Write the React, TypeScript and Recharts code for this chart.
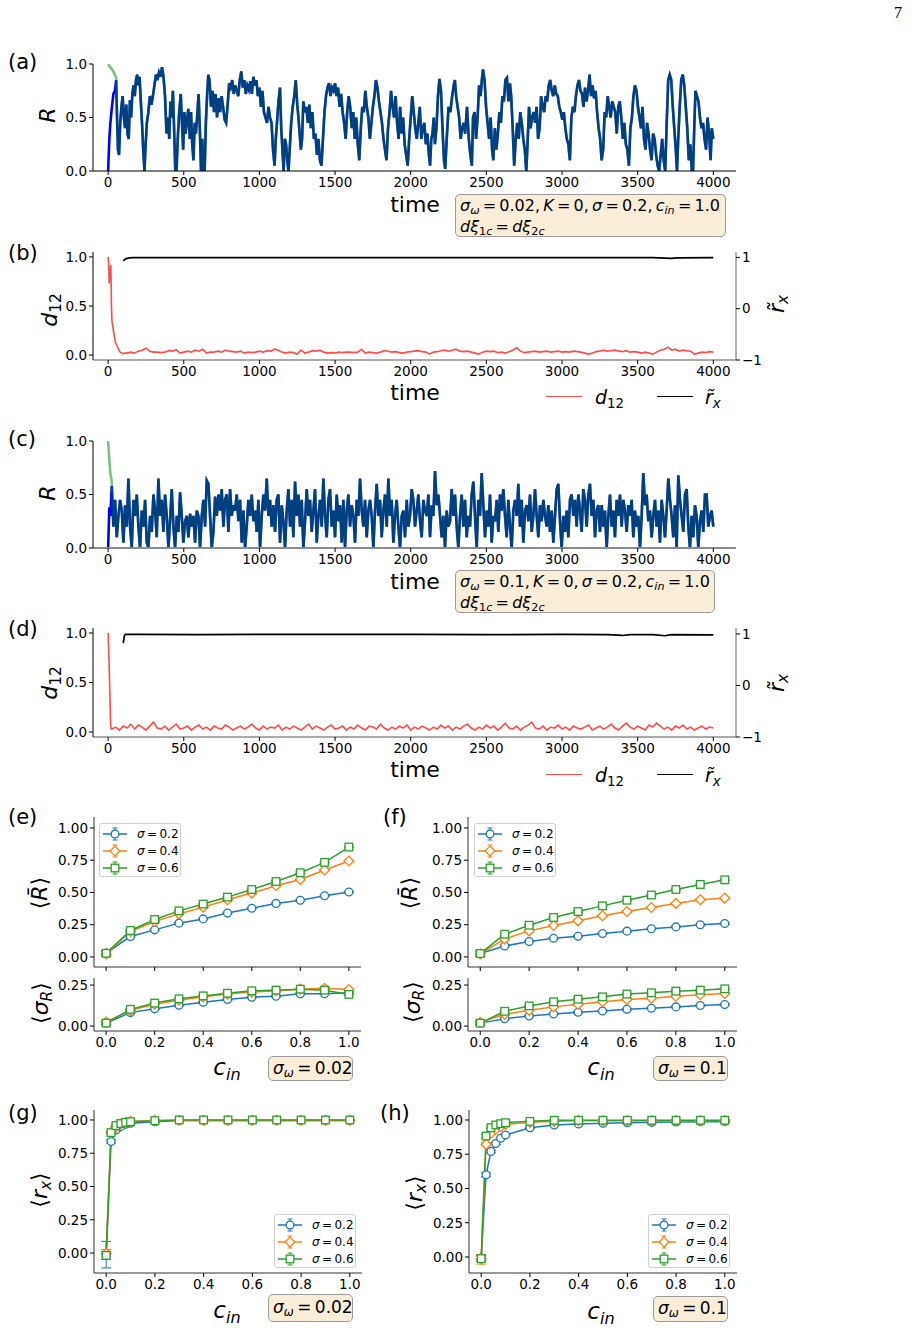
import React from "react";
import { LineChart, Line, XAxis, YAxis, ErrorBar } from "recharts";

const FONT = "'DejaVu Sans', sans-serif";
const TICK = { fontSize: 13.5, fill: "#000", fontFamily: FONT };
const C_BLUE = "#1f77b4";
const C_ORANGE = "#ff7f0e";
const C_GREEN = "#2ca02c";
const BOX = "#333";
const TS = "\u2009"; // thin space, mathtext-like spacing

// ---------- time series data ----------
const timeTicks = [0, 500, 1000, 1500, 2000, 2500, 3000, 3500, 4000];

// (a) R(t), sigma_omega = 0.02 : [time, R]
const aPts: [number, number][] = [
  [0, 0], [8, 0.3], [15, 0.45], [25, 0.6], [35, 0.72], [45, 0.75], [53, 0.85], [58, 0.55], [65, 0.2], [72, 0.15],
  [80, 0.45], [88, 0.6], [96, 0.7], [104, 0.5], [112, 0.4], [120, 0.62], [128, 0.35], [136, 0.3], [144, 0.66], [152, 0.5],
  [160, 0.72], [168, 0.8], [176, 0.7], [184, 0.85], [192, 0.9], [200, 0.8], [208, 0.88], [216, 0.65], [224, 0.45], [232, 0.2],
  [240, 0.0], [248, 0.25], [256, 0.45], [266, 0.55], [276, 0.7], [286, 0.62], [296, 0.7], [306, 0.8], [316, 0.9], [326, 0.85],
  [336, 0.92], [346, 0.88], [356, 0.97], [366, 0.88], [376, 0.7], [386, 0.35], [396, 0.5], [404, 0.3], [412, 0.65], [420, 0.5],
  [428, 0.75], [436, 0.4], [444, 0.0], [452, 0.0], [460, 0.3], [470, 0.55], [480, 0.72], [488, 0.45], [496, 0.2], [504, 0.55],
  [512, 0.35], [520, 0.45], [530, 0.58], [540, 0.3], [548, 0.55], [556, 0.25], [564, 0.1], [572, 0.45], [580, 0.35], [588, 0.5],
  [598, 0.72], [606, 0.4], [614, 0.0], [622, 0.3], [630, 0.0], [638, 0.0], [646, 0.45], [654, 0.7], [662, 0.9], [670, 0.85],
  [680, 0.6], [690, 0.75], [700, 0.55], [710, 0.72], [720, 0.5], [730, 0.68], [740, 0.55], [750, 0.7], [760, 0.6], [770, 0.48],
  [780, 0.45], [790, 0.62], [800, 0.82], [810, 0.78], [820, 0.85], [830, 0.72], [840, 0.8], [850, 0.75], [860, 0.7], [870, 0.85],
  [880, 0.93], [890, 0.78], [900, 0.85], [910, 0.72], [920, 0.8], [930, 0.76], [940, 0.84], [950, 0.72], [960, 0.88], [970, 0.8],
  [980, 0.85], [990, 0.7], [1000, 0.78], [1010, 0.6], [1020, 0.75], [1030, 0.55], [1040, 0.5], [1050, 0.45], [1060, 0.6], [1070, 0.5],
  [1080, 0.45], [1090, 0.2], [1100, 0.05], [1108, 0.3], [1116, 0.45], [1126, 0.65], [1136, 0.78], [1144, 0.4], [1152, 0.2], [1160, 0.0],
  [1168, 0.3], [1176, 0.25], [1184, 0.1], [1192, 0.0], [1200, 0.2], [1210, 0.45], [1220, 0.6], [1230, 0.7], [1240, 0.85], [1250, 0.62],
  [1258, 0.5], [1266, 0.35], [1274, 0.2], [1282, 0.3], [1290, 0.65], [1300, 0.55], [1310, 0.6], [1320, 0.45], [1330, 0.62], [1340, 0.4],
  [1350, 0.55], [1360, 0.3], [1370, 0.35], [1380, 0.15], [1390, 0.3], [1400, 0.1], [1410, 0.05], [1420, 0.3], [1430, 0.55], [1440, 0.7],
  [1450, 0.78], [1460, 0.82], [1470, 0.7], [1480, 0.78], [1490, 0.75], [1500, 0.82], [1510, 0.7], [1520, 0.78], [1530, 0.6], [1540, 0.72],
  [1550, 0.55], [1560, 0.45], [1570, 0.3], [1580, 0.55], [1590, 0.7], [1600, 0.6], [1610, 0.4], [1620, 0.55], [1630, 0.3], [1640, 0.5],
  [1650, 0.25], [1660, 0.1], [1670, 0.4], [1680, 0.6], [1690, 0.55], [1700, 0.75], [1710, 0.6], [1720, 0.5], [1730, 0.3], [1740, 0.45],
  [1750, 0.6], [1760, 0.7], [1770, 0.85], [1780, 0.78], [1790, 0.65], [1800, 0.55], [1810, 0.45], [1820, 0.3], [1830, 0.2], [1840, 0.1],
  [1850, 0.4], [1860, 0.55], [1870, 0.75], [1880, 0.6], [1890, 0.5], [1900, 0.7], [1910, 0.45], [1920, 0.3], [1930, 0.6], [1940, 0.35],
  [1950, 0.5], [1960, 0.25], [1970, 0.15], [1980, 0.05], [1990, 0.3], [2000, 0.5], [2010, 0.7], [2020, 0.55], [2030, 0.4], [2040, 0.3],
  [2050, 0.45], [2060, 0.6], [2070, 0.3], [2080, 0.4], [2090, 0.45], [2100, 0.25], [2110, 0.35], [2120, 0.15], [2128, 0.05], [2136, 0.3],
  [2144, 0.35], [2152, 0.5], [2160, 0.25], [2170, 0.4], [2180, 0.7], [2190, 0.86], [2200, 0.75], [2210, 0.4], [2220, 0.1], [2228, 0.02],
  [2238, 0.3], [2250, 0.6], [2262, 0.55], [2274, 0.7], [2284, 0.8], [2292, 0.85], [2300, 0.7], [2310, 0.6], [2320, 0.5], [2330, 0.3],
  [2340, 0.4], [2350, 0.45], [2360, 0.35], [2372, 0.6], [2384, 0.3], [2394, 0.15], [2404, 0.05], [2412, 0.5], [2422, 0.55], [2432, 0.3],
  [2442, 0.5], [2452, 0.8], [2462, 0.7], [2470, 0.85], [2478, 0.95], [2488, 0.85], [2498, 0.6], [2508, 0.45], [2518, 0.3], [2528, 0.5],
  [2538, 0.2], [2546, 0.1], [2556, 0.4], [2566, 0.2], [2576, 0.35], [2586, 0.55], [2596, 0.45], [2606, 0.7], [2616, 0.65], [2626, 0.85],
  [2636, 0.87], [2646, 0.65], [2656, 0.82], [2664, 0.7], [2674, 0.4], [2684, 0.05], [2694, 0.3], [2704, 0.45], [2714, 0.3], [2724, 0.55],
  [2734, 0.45], [2744, 0.3], [2754, 0.2], [2764, 0.0], [2772, 0.25], [2782, 0.6], [2792, 0.4], [2802, 0.5], [2812, 0.55], [2822, 0.45],
  [2832, 0.6], [2842, 0.3], [2852, 0.4], [2862, 0.7], [2872, 0.6], [2882, 0.55], [2892, 0.7], [2902, 0.65], [2912, 0.8], [2922, 0.85],
  [2932, 0.75], [2942, 0.7], [2952, 0.8], [2962, 0.72], [2972, 0.7], [2982, 0.6], [2992, 0.55], [3002, 0.48], [3012, 0.55], [3022, 0.4],
  [3032, 0.3], [3042, 0.25], [3052, 0.1], [3062, 0.5], [3072, 0.6], [3082, 0.55], [3092, 0.7], [3102, 0.8], [3112, 0.85], [3122, 0.75],
  [3132, 0.72], [3142, 0.6], [3152, 0.78], [3162, 0.65], [3172, 0.75], [3182, 0.9], [3192, 0.7], [3202, 0.8], [3212, 0.68], [3222, 0.75],
  [3232, 0.55], [3242, 0.4], [3252, 0.3], [3262, 0.1], [3272, 0.2], [3282, 0.55], [3292, 0.5], [3302, 0.7], [3312, 0.6], [3322, 0.5],
  [3332, 0.65], [3342, 0.6], [3352, 0.55], [3362, 0.35], [3372, 0.6], [3382, 0.65], [3392, 0.5], [3402, 0.3], [3412, 0.45], [3422, 0.25],
  [3432, 0.2], [3442, 0.05], [3452, 0.4], [3462, 0.5], [3472, 0.7], [3482, 0.8], [3492, 0.75], [3502, 0.6], [3512, 0.5], [3522, 0.4],
  [3532, 0.6], [3542, 0.3], [3552, 0.2], [3562, 0.45], [3572, 0.35], [3582, 0.2], [3592, 0.1], [3602, 0.35], [3612, 0.3], [3622, 0.15],
  [3632, 0.05], [3642, 0.0], [3652, 0.15], [3662, 0.3], [3672, 0.1], [3682, 0.0], [3692, 0.45], [3702, 0.85], [3712, 0.9], [3722, 0.85],
  [3732, 0.6], [3742, 0.4], [3752, 0.2], [3760, 0.0], [3768, 0.3], [3778, 0.6], [3788, 0.85], [3798, 0.9], [3808, 0.8], [3818, 0.6],
  [3828, 0.4], [3838, 0.1], [3848, 0.25], [3858, 0.0], [3866, 0.0], [3874, 0.4], [3882, 0.75], [3892, 0.7], [3902, 0.65], [3912, 0.5],
  [3922, 0.4], [3932, 0.45], [3942, 0.3], [3952, 0.2], [3962, 0.5], [3972, 0.35], [3982, 0.1], [3990, 0.4], [4000, 0.3],
];
// second oscillator (green) differs only at the start
const aGreenHead = [1.0, 0.98, 0.97, 0.95, 0.93, 0.9, 0.87];

// (c) R(t), sigma_omega = 0.1
const cHead: [number, number][] = [[0, 0], [8, 0.38], [15, 0.3], [24, 0.58]];
const cGreenHead = [1.0, 0.82, 0.7, 0.62];
const cStart = 35;
const cR = [
  0.2, 0.45, 0.1, 0.3, 0.45, 0.35, 0.05, 0.4, 0.2, 0.65, 0.2, 0.0, 0.45, 0.3, 0.5, 0.2, 0.0, 0.35, 0.2, 0.45,
  0.05, 0.0, 0.3, 0.15, 0.5, 0.35, 0.1, 0.65, 0.3, 0.45, 0.15, 0.5, 0.3, 0.0, 0.25, 0.55, 0.2, 0.0, 0.3, 0.15,
  0.52, 0.3, 0.05, 0.25, 0.3, 0.1, 0.32, 0.2, 0.3, 0.05, 0.35, 0.3, 0.0, 0.3, 0.45, 0.2, 0.63, 0.6, 0.3, 0.0,
  0.15, 0.48, 0.3, 0.5, 0.35, 0.55, 0.2, 0.45, 0.5, 0.15, 0.55, 0.3, 0.4, 0.35, 0.5, 0.25, 0.45, 0.05, 0.35, 0.0,
  0.2, 0.45, 0.3, 0.5, 0.25, 0.35, 0.15, 0.45, 0.0, 0.3, 0.5, 0.35, 0.65, 0.3, 0.45, 0.2, 0.4, 0.15, 0.45, 0.5,
  0.05, 0.4, 0.25, 0.0, 0.35, 0.55, 0.2, 0.45, 0.1, 0.62, 0.3, 0.5, 0.2, 0.45, 0.0, 0.25, 0.55, 0.3, 0.45, 0.15,
  0.35, 0.55, 0.05, 0.3, 0.45, 0.2, 0.65, 0.3, 0.1, 0.45, 0.55, 0.2, 0.35, 0.1, 0.5, 0.25, 0.4, 0.05, 0.45, 0.0,
  0.35, 0.5, 0.2, 0.4, 0.3, 0.05, 0.45, 0.3, 0.65, 0.35, 0.2, 0.45, 0.1, 0.35, 0.45, 0.3, 0.0, 0.35, 0.6, 0.3,
  0.45, 0.1, 0.35, 0.5, 0.2, 0.65, 0.3, 0.45, 0.05, 0.3, 0.45, 0.2, 0.0, 0.3, 0.35, 0.1, 0.45, 0.2, 0.3, 0.55,
  0.45, 0.2, 0.35, 0.5, 0.25, 0.1, 0.45, 0.35, 0.3, 0.5, 0.1, 0.4, 0.3, 0.72, 0.4, 0.5, 0.3, 0.1, 0.3, 0.0,
  0.35, 0.2, 0.25, 0.55, 0.3, 0.5, 0.2,
  0.0, 0.3, 0.5, 0.2, 0.45, 0.1, 0.3, 0.2, 0.5, 0.62, 0.3, 0.0, 0.45, 0.3, 0.7, 0.4, 0.1, 0.35, 0.2, 0.5,
  0.05, 0.3, 0.25, 0.45, 0.15, 0.5, 0.35, 0.55, 0.3, 0.1, 0.45, 0.2, 0.0, 0.35, 0.45, 0.3, 0.6, 0.2, 0.45, 0.05,
  0.35, 0.4, 0.25, 0.5, 0.15, 0.3, 0.55, 0.3, 0.1, 0.4, 0.25, 0.45, 0.3, 0.2, 0.4, 0.15, 0.35, 0.05, 0.3, 0.55,
  0.6, 0.25, 0.0, 0.3, 0.15, 0.35, 0.1, 0.45, 0.5, 0.3, 0.45, 0.2, 0.5, 0.35, 0.15, 0.55, 0.45, 0.2, 0.5, 0.6,
  0.3, 0.45, 0.1, 0.35, 0.4, 0.15, 0.4, 0.2, 0.35, 0.0, 0.3, 0.5, 0.2, 0.35, 0.1, 0.45, 0.3, 0.5, 0.2, 0.45,
  0.35, 0.15, 0.4, 0.3, 0.45, 0.1, 0.35, 0.2, 0.3, 0.0, 0.3, 0.7, 0.4, 0.5, 0.25, 0.35, 0.1, 0.3, 0.45, 0.2,
  0.35, 0.05, 0.45, 0.3, 0.1, 0.35, 0.65, 0.45, 0.3, 0.1, 0.4, 0.0, 0.68, 0.45, 0.3, 0.15, 0.5, 0.55, 0.2, 0.0,
  0.3, 0.1, 0.4, 0.3, 0.0, 0.25, 0.35, 0.15, 0.5, 0.5, 0.2, 0.3, 0.35, 0.2,
];

// (b) d12 and r_x, sigma_omega = 0.02
const bD12Head: [number, number][] = [
  [0, 1.0], [4, 0.9], [7, 0.73], [12, 0.85], [18, 0.92], [22, 0.5], [25, 0.35], [30, 0.3], [35, 0.25], [42, 0.18],
  [50, 0.12], [58, 0.1], [68, 0.06], [80, 0.03], [95, 0.015], [110, 0.02],
];
const bD12Start = 125;
const bD12 = [
  0.02, 0.03, 0.02, 0.04, 0.05, 0.07, 0.04, 0.03, 0.03, 0.025, 0.03, 0.045, 0.04, 0.055, 0.02, 0.03, 0.04, 0.03, 0.05, 0.04,
  0.06, 0.02, 0.03, 0.03, 0.04, 0.03, 0.05, 0.04, 0.035, 0.03, 0.04, 0.02, 0.03, 0.025, 0.03, 0.04, 0.03, 0.045, 0.04, 0.06,
  0.05, 0.03, 0.02, 0.03, 0.025, 0.01, 0.05, 0.02, 0.03, 0.045, 0.04, 0.05, 0.03, 0.02, 0.025, 0.02, 0.03, 0.025, 0.03, 0.03,
  0.025, 0.03, 0.06, 0.02, 0.03, 0.025, 0.02, 0.03, 0.045, 0.04, 0.03, 0.035, 0.025, 0.02, 0.03, 0.035, 0.04, 0.045, 0.035, 0.03,
  0.01, 0.03, 0.035, 0.045, 0.05, 0.04, 0.05, 0.06, 0.04, 0.035, 0.04, 0.03, 0.02, 0.01, 0.03, 0.04, 0.035, 0.04, 0.025, 0.03,
  0.02, 0.035, 0.05, 0.075, 0.04, 0.025, 0.03, 0.035, 0.04, 0.03, 0.035, 0.04, 0.03, 0.035, 0.04, 0.03, 0.035, 0.03, 0.04, 0.035,
  0.03, 0.02, 0.01, 0.02, 0.035, 0.04, 0.05, 0.04, 0.045, 0.05, 0.04, 0.035, 0.045, 0.03, 0.035, 0.03, 0.02, 0.03, 0.02, 0.01,
  0.03, 0.05, 0.06, 0.08, 0.05, 0.06, 0.04, 0.05, 0.045, 0.04, 0.01, 0.02, 0.03, 0.025, 0.035, 0.03,
];
const bRx: [number, number][] = [
  [100, 0.93], [110, 0.96], [120, 0.975], [140, 0.99], [170, 0.995], [600, 0.997], [1200, 0.995], [1800, 0.996],
  [2400, 0.995], [3000, 0.996], [3600, 0.995], [3680, 0.985], [3720, 0.98], [3760, 0.99], [4000, 0.995],
];

// (d) d12 and r_x, sigma_omega = 0.1
const dD12Head: [number, number][] = [[0, 1.0], [8, 0.6], [16, 0.1], [20, 0.03]];
const dD12Start = 25;
const dD12 = [
  0.03, 0.05, 0.02, 0.06, 0.04, 0.08, 0.03, 0.07, 0.05, 0.02, 0.06, 0.1, 0.04, 0.03, 0.06, 0.02, 0.05, 0.08, 0.03, 0.04,
  0.06, 0.02, 0.05, 0.07, 0.03, 0.05, 0.02, 0.06, 0.04, 0.03, 0.07, 0.05, 0.02, 0.04, 0.06, 0.03, 0.05, 0.08, 0.04, 0.02,
  0.06, 0.03, 0.05, 0.04, 0.07, 0.02, 0.05, 0.03, 0.06, 0.04, 0.02, 0.05, 0.08, 0.03, 0.06, 0.04, 0.02, 0.05, 0.07, 0.03,
  0.04, 0.06, 0.02, 0.05, 0.03, 0.07, 0.04, 0.02, 0.06, 0.05, 0.03, 0.08, 0.04, 0.02, 0.05, 0.03, 0.06, 0.04, 0.07, 0.02,
  0.05, 0.03, 0.06, 0.04, 0.02, 0.05, 0.03, 0.07, 0.04, 0.06, 0.02, 0.05, 0.03, 0.06, 0.08, 0.04, 0.02, 0.05, 0.03, 0.07,
  0.04, 0.06, 0.02, 0.05, 0.09, 0.04, 0.03, 0.06, 0.02, 0.05, 0.07, 0.1, 0.04, 0.03, 0.06, 0.02, 0.05, 0.04, 0.07, 0.03,
  0.05, 0.02, 0.06, 0.04, 0.03, 0.05, 0.07, 0.02, 0.04, 0.06, 0.03, 0.05, 0.08, 0.04, 0.02, 0.06, 0.09, 0.05, 0.03, 0.06,
  0.04, 0.02, 0.07, 0.05, 0.09, 0.06, 0.03, 0.05, 0.02, 0.06, 0.04, 0.07, 0.03, 0.05, 0.02, 0.04, 0.06, 0.03, 0.05, 0.04,
];
const dRx: [number, number][] = [
  [100, 0.82], [108, 0.97], [115, 0.99], [200, 0.99], [600, 0.985], [1000, 0.99], [1500, 0.99], [2000, 0.99],
  [2500, 0.985], [3000, 0.99], [3300, 0.985], [3400, 0.97], [3450, 0.985], [3600, 0.985], [3680, 0.965], [3720, 0.985], [4000, 0.98],
];

// ---------- ensemble averages ----------
const cin = [0, 0.1, 0.2, 0.3, 0.4, 0.5, 0.6, 0.7, 0.8, 0.9, 1.0];
const cinFine = [0, 0.02, 0.04, 0.06, 0.08, 0.1, 0.2, 0.3, 0.4, 0.5, 0.6, 0.7, 0.8, 0.9, 1.0];

const eR02 = [0.03, 0.158, 0.21, 0.262, 0.295, 0.34, 0.378, 0.415, 0.44, 0.474, 0.503];
const eR04 = [0.023, 0.197, 0.275, 0.334, 0.386, 0.443, 0.495, 0.552, 0.6, 0.674, 0.744];
const eR06 = [0.028, 0.205, 0.29, 0.357, 0.41, 0.464, 0.523, 0.585, 0.653, 0.733, 0.852];
const eS02 = [0.018, 0.082, 0.105, 0.127, 0.145, 0.162, 0.176, 0.182, 0.197, 0.197, 0.203];
const eS04 = [0.025, 0.096, 0.133, 0.158, 0.178, 0.195, 0.207, 0.215, 0.225, 0.23, 0.223];
const eS06 = [0.018, 0.102, 0.14, 0.166, 0.184, 0.2, 0.215, 0.219, 0.225, 0.219, 0.193];

const fR02 = [0.026, 0.085, 0.119, 0.145, 0.16, 0.181, 0.2, 0.218, 0.233, 0.249, 0.259];
const fR04 = [0.023, 0.14, 0.202, 0.244, 0.28, 0.319, 0.352, 0.383, 0.415, 0.443, 0.456];
const fR06 = [0.026, 0.176, 0.246, 0.306, 0.352, 0.396, 0.44, 0.48, 0.523, 0.562, 0.598];
const fS02 = [0.018, 0.045, 0.061, 0.074, 0.084, 0.092, 0.102, 0.109, 0.117, 0.125, 0.131];
const fS04 = [0.023, 0.072, 0.096, 0.117, 0.133, 0.148, 0.162, 0.17, 0.182, 0.191, 0.199];
const fS06 = [0.018, 0.09, 0.123, 0.148, 0.164, 0.178, 0.195, 0.203, 0.213, 0.219, 0.227];

const errR = [0.02, 0.008, 0.006, 0.006, 0.006, 0.006, 0.006, 0.006, 0.006, 0.006, 0.006];
const errS = [0.012, 0.006, 0.005, 0.005, 0.005, 0.005, 0.005, 0.005, 0.005, 0.005, 0.005];

const gX02 = [-0.012, 0.838, 0.925, 0.95, 0.968, 0.975, 0.987, 0.997, 0.997, 0.997, 0.997, 0.997, 0.997, 0.997, 0.997];
const gX04 = [-0.003, 0.905, 0.95, 0.97, 0.982, 0.99, 0.997, 0.997, 0.997, 0.997, 0.997, 0.997, 0.997, 0.997, 0.997];
const gX06 = [-0.018, 0.905, 0.958, 0.973, 0.982, 0.987, 0.995, 1.0, 1.0, 1.0, 1.0, 1.0, 1.0, 1.0, 1.0];
const gE02 = [0.1, 0.012, 0.008, 0.006, 0.005, 0.005, 0.004, 0.003, 0.003, 0.003, 0.003, 0.003, 0.003, 0.003, 0.003];
const gE04 = [0.03, 0.01, 0.006, 0.005, 0.004, 0.004, 0.003, 0.003, 0.003, 0.003, 0.003, 0.003, 0.003, 0.003, 0.003];
const gE06 = [0.03, 0.01, 0.006, 0.005, 0.004, 0.004, 0.003, 0.003, 0.003, 0.003, 0.003, 0.003, 0.003, 0.003, 0.003];

const hX02 = [-0.007, 0.6, 0.77, 0.828, 0.867, 0.891, 0.944, 0.964, 0.971, 0.976, 0.98, 0.983, 0.985, 0.988, 0.988];
const hX04 = [-0.017, 0.823, 0.903, 0.932, 0.951, 0.968, 0.983, 0.99, 0.995, 0.995, 0.995, 0.995, 0.995, 0.995, 0.995];
const hX06 = [-0.012, 0.883, 0.944, 0.964, 0.973, 0.98, 0.99, 0.998, 0.998, 0.998, 0.998, 0.998, 0.998, 0.998, 0.998];
const hE02 = [0.02, 0.015, 0.01, 0.008, 0.006, 0.006, 0.005, 0.004, 0.004, 0.004, 0.004, 0.004, 0.004, 0.004, 0.004];
const hE04 = [0.035, 0.012, 0.008, 0.006, 0.005, 0.005, 0.004, 0.003, 0.003, 0.003, 0.003, 0.003, 0.003, 0.003, 0.003];
const hE06 = [0.02, 0.01, 0.006, 0.005, 0.004, 0.004, 0.003, 0.003, 0.003, 0.003, 0.003, 0.003, 0.003, 0.003, 0.003];

const sigmaLabels = ["0.2", "0.4", "0.6"];
const seriesColors = [C_BLUE, C_ORANGE, C_GREEN];
const seriesShapes = ["circle", "diamond", "square"];

// ---------- small text helpers ----------
const Sub = ({ children }: { children: React.ReactNode }) => (
  <span style={{ fontSize: "0.7em", position: "relative", top: "0.28em" }}>{children}</span>
);

const Abs = ({ x, y, size = 22, rotate = false, center = true, children }: any) => (
  <div
    style={{
      position: "absolute",
      left: x,
      top: y,
      fontFamily: FONT,
      fontSize: size,
      lineHeight: 1,
      whiteSpace: "nowrap",
      transform: `translate(${center ? "-50%" : "0"}, -50%)${rotate ? " rotate(-90deg)" : ""}`,
    }}
  >
    {children}
  </div>
);

const NoteBox = ({ x, y, w, h, size = 16, children }: any) => (
  <div
    style={{
      position: "absolute",
      left: x,
      top: y,
      width: w,
      height: h,
      boxSizing: "border-box",
      background: "#faeed9",
      border: "1.5px solid #9a9a9a",
      borderRadius: 5,
      padding: "1px 4px",
      fontFamily: FONT,
      fontSize: size,
      lineHeight: "19px",
      whiteSpace: "nowrap",
    }}
  >
    {children}
  </div>
);

// ---------- time series panels ----------
function RPanel({ top, head, green, start, vals, pts, axisColor }: any) {
  let rows: any[];
  if (pts) {
    rows = pts.map(([t, r]: [number, number], i: number) => ({ t, blue: r, green: i < green.length ? green[i] : r }));
  } else {
    const st = (4000 - start) / (vals.length - 1);
    rows = head.map(([t, r]: [number, number], i: number) => ({ t, blue: r, green: green[i] }));
    vals.forEach((r: number, k: number) => rows.push({ t: start + k * st, blue: r, green: r }));
  }
  return (
    <div style={{ position: "absolute", left: 0, top: top - 10 }}>
      <LineChart width={760} height={147} data={rows} margin={{ top: 10, right: 24, bottom: 0, left: 0 }}>
        <XAxis
          dataKey="t"
          type="number"
          domain={[-100, 4150]}
          ticks={timeTicks}
          allowDataOverflow
          tick={TICK}
          tickSize={4}
          height={30}
          axisLine={{ stroke: axisColor, strokeWidth: axisColor === "#000" ? 1 : 2 }}
          tickLine={{ stroke: "#000" }}
        />
        <YAxis
          type="number"
          domain={[0, 1]}
          ticks={[0, 0.5, 1]}
          tickFormatter={(v: number) => v.toFixed(1)}
          allowDataOverflow
          tick={TICK}
          tickSize={4}
          width={93}
          axisLine={{ stroke: "#000" }}
          tickLine={{ stroke: "#000" }}
        />
        <Line dataKey="blue" stroke="#0000ff" strokeWidth={2.6} dot={false} isAnimationActive={false} />
        <Line dataKey="green" stroke="#008000" strokeOpacity={0.5} strokeWidth={2.6} dot={false} isAnimationActive={false} />
      </LineChart>
    </div>
  );
}

function DPanel({ top, plotH, head, start, vals, rx, rTop }: any) {
  const d12Rows = head.map(([t, v]: [number, number]) => ({ t, v }));
  vals.forEach((v: number, k: number) => d12Rows.push({ t: start + k * 25, v }));
  const rxRows = rx.map(([t, v]: [number, number]) => ({ t, v }));
  return (
    <div style={{ position: "absolute", left: 0, top: top - 10 }}>
      <LineChart width={790} height={10 + plotH + 30} margin={{ top: 10, right: 0, bottom: 0, left: 0 }}>
        <XAxis
          dataKey="t"
          type="number"
          domain={[-100, 4150]}
          ticks={timeTicks}
          allowDataOverflow
          tick={TICK}
          tickSize={4}
          height={30}
          axisLine={{ stroke: "#555" }}
          tickLine={{ stroke: "#000" }}
        />
        <YAxis
          yAxisId="l"
          type="number"
          domain={[-0.05, 1.05]}
          ticks={[0, 0.5, 1]}
          tickFormatter={(v: number) => v.toFixed(1)}
          allowDataOverflow
          tick={TICK}
          tickSize={4}
          width={93}
          axisLine={{ stroke: "#000" }}
          tickLine={{ stroke: "#000" }}
        />
        <YAxis
          yAxisId="r"
          orientation="right"
          type="number"
          domain={[-1, rTop]}
          ticks={[-1, 0, 1]}
          tickFormatter={(v: number) => (v < 0 ? "\u2212" + Math.abs(v) : String(v))}
          allowDataOverflow
          tick={TICK}
          tickSize={4}
          width={54}
          axisLine={{ stroke: "#666" }}
          tickLine={{ stroke: "#000" }}
        />
        <Line data={d12Rows} dataKey="v" yAxisId="l" stroke="#ff4d4d" strokeWidth={1.6} dot={false} isAnimationActive={false} />
        <Line data={rxRows} dataKey="v" yAxisId="r" stroke="#000" strokeWidth={1.7} dot={false} isAnimationActive={false} />
      </LineChart>
    </div>
  );
}

const DLegend = ({ y }: { y: number }) => (
  <>
    <div style={{ position: "absolute", left: 546, top: y - 1, width: 36, borderTop: "1.5px solid #ff4d4d" }} />
    <Abs x={595} y={y} size={19} center={false}>
      <i>d</i>
      <Sub>12</Sub>
    </Abs>
    <div style={{ position: "absolute", left: 657, top: y - 1, width: 36, borderTop: "1.5px solid #000" }} />
    <Abs x={705} y={y} size={19} center={false}>
      <i>r&#771;</i>
      <Sub>
        <i>x</i>
      </Sub>
    </Abs>
  </>
);

// ---------- ensemble panels ----------
function Marker({ shape, color, cx, cy }: any) {
  if (shape === "circle") return <circle cx={cx} cy={cy} r={3.9} fill="#fff" stroke={color} strokeWidth={1.3} />;
  if (shape === "diamond")
    return (
      <polygon
        points={`${cx},${cy - 4.9} ${cx + 4.9},${cy} ${cx},${cy + 4.9} ${cx - 4.9},${cy}`}
        fill="#fff"
        stroke={color}
        strokeWidth={1.3}
      />
    );
  return <rect x={cx - 3.8} y={cy - 3.8} width={7.6} height={7.6} fill="#fff" stroke={color} strokeWidth={1.3} />;
}

const makeDot = (shape: string, color: string) => (p: any) => {
  if (p.cx == null || p.cy == null) return <g key={p.index} />;
  return (
    <g key={p.index}>
      <Marker shape={shape} color={color} cx={p.cx} cy={p.cy} />
    </g>
  );
};

function StatChart({ left, top, width, plotH, xHeight, xs, vals, errs, yDomain, yTicks, showX }: any) {
  const rows = xs.map((c: number, i: number) => {
    const r: any = { c };
    vals.forEach((v: number[], k: number) => {
      r["v" + k] = v[i];
      r["e" + k] = errs[k][i];
    });
    return r;
  });
  return (
    <div style={{ position: "absolute", left, top: top - 10 }}>
      <LineChart width={width} height={10 + plotH + xHeight} data={rows} margin={{ top: 10, right: 9, bottom: 0, left: 0 }}>
        <XAxis
          dataKey="c"
          type="number"
          domain={[-0.05, 1.05]}
          ticks={[0, 0.2, 0.4, 0.6, 0.8, 1.0]}
          tickFormatter={(v: number) => (showX ? v.toFixed(1) : "")}
          allowDataOverflow
          tick={TICK}
          tickSize={4}
          height={xHeight}
          axisLine={{ stroke: BOX }}
          tickLine={{ stroke: "#000" }}
        />
        <XAxis xAxisId="top" orientation="top" type="number" domain={[-0.05, 1.05]} height={0} tick={false} tickLine={false} axisLine={{ stroke: BOX }} />
        <YAxis
          type="number"
          domain={yDomain}
          ticks={yTicks}
          tickFormatter={(v: number) => v.toFixed(2)}
          allowDataOverflow
          tick={TICK}
          tickSize={4}
          width={94}
          axisLine={{ stroke: BOX }}
          tickLine={{ stroke: "#000" }}
        />
        <YAxis yAxisId="right" orientation="right" type="number" domain={yDomain} width={0} tick={false} tickLine={false} axisLine={{ stroke: BOX }} />
        {vals.map((_: number[], k: number) => (
          <Line
            key={k}
            dataKey={"v" + k}
            stroke={seriesColors[k]}
            strokeWidth={1.5}
            dot={makeDot(seriesShapes[k], seriesColors[k])}
            activeDot={false}
            isAnimationActive={false}
          >
            <ErrorBar dataKey={"e" + k} width={5} stroke={seriesColors[k]} strokeWidth={1} direction="y" />
          </Line>
        ))}
      </LineChart>
    </div>
  );
}

const StatLegend = ({ x, y }: { x: number; y: number }) => (
  <div
    style={{
      position: "absolute",
      left: x,
      top: y,
      width: 82,
      height: 54,
      boxSizing: "border-box",
      background: "#fff",
      border: "1px solid #d0d0d0",
      borderRadius: 3,
    }}
  >
    {sigmaLabels.map((s, k) => (
      <div key={k} style={{ position: "absolute", left: 3, top: 3 + k * 17, height: 14, display: "flex", alignItems: "center" }}>
        <svg width={26} height={14}>
          <line x1={0} y1={7} x2={24} y2={7} stroke={seriesColors[k]} strokeWidth={1.5} />
          <line x1={12} y1={1} x2={12} y2={13} stroke={seriesColors[k]} strokeWidth={1} />
          <line x1={9.5} y1={1} x2={14.5} y2={1} stroke={seriesColors[k]} strokeWidth={1} />
          <line x1={9.5} y1={13} x2={14.5} y2={13} stroke={seriesColors[k]} strokeWidth={1} />
          <Marker shape={seriesShapes[k]} color={seriesColors[k]} cx={12} cy={7} />
        </svg>
        <span style={{ marginLeft: 8, fontFamily: FONT, fontSize: 12, whiteSpace: "nowrap" }}>
          <i>σ</i>
          {TS}={TS}
          {s}
        </span>
      </div>
    ))}
  </div>
);

const Cin = ({ x, y }: { x: number; y: number }) => (
  <Abs x={x} y={y} size={23}>
    <i>c</i>
    <Sub>
      <i>in</i>
    </Sub>
  </Abs>
);

const SigW = ({ x, y, w, h, v }: any) => (
  <NoteBox x={x} y={y} w={w} h={h} size={17}>
    <div style={{ textAlign: "center", lineHeight: `${h - 5}px` }}>
      <i>σ</i>
      <Sub>
        <i>ω</i>
      </Sub>
      {TS}={TS}
      {v}
    </div>
  </NoteBox>
);

const Rbar = () => (
  <>
    ⟨<i>R&#772;</i>⟩
  </>
);
const SigR = () => (
  <>
    ⟨<i>σ</i>
    <Sub>
      <i>R</i>
    </Sub>
    ⟩
  </>
);
const Rx = () => (
  <>
    ⟨<i>r</i>
    <Sub>
      <i>x</i>
    </Sub>
    ⟩
  </>
);

const Params = ({ sw }: { sw: string }) => (
  <>
    <div>
      <i>σ</i>
      <Sub>
        <i>ω</i>
      </Sub>
      {TS}={TS}
      {sw},{TS}
      <i>K</i>
      {TS}={TS}0,{TS}
      <i>σ</i>
      {TS}={TS}0.2,{TS}
      <i>c</i>
      <Sub>
        <i>in</i>
      </Sub>
      {TS}={TS}1.0
    </div>
    <div>
      <i>dξ</i>
      <Sub>
        1<i>c</i>
      </Sub>
      {TS}={TS}
      <i>dξ</i>
      <Sub>
        2<i>c</i>
      </Sub>
    </div>
  </>
);

export default function App() {
  const rTicks = [0, 0.25, 0.5, 0.75, 1.0];
  return (
    <div style={{ position: "absolute", left: 0, top: 0, width: 912, height: 1329, background: "#fff", overflow: "hidden" }}>
      <div style={{ position: "absolute", left: 894, top: 4, fontFamily: "'Liberation Serif', serif", fontSize: 16 }}>7</div>

      {/* (a) */}
      <Abs x={8} y={62} size={21} center={false}>(a)</Abs>
      <RPanel top={64} pts={aPts} green={aGreenHead} axisColor="#000" />
      <Abs x={48} y={115} rotate>
        <i>R</i>
      </Abs>
      <Abs x={415} y={205}>time</Abs>
      <NoteBox x={455} y={194} w={271} h={43}>
        <Params sw="0.02" />
      </NoteBox>

      {/* (b) */}
      <Abs x={8} y={253} size={21} center={false}>(b)</Abs>
      <DPanel top={252} plotH={108} head={bD12Head} start={bD12Start} vals={bD12} rx={bRx} rTop={1.105} />
      <Abs x={50} y={310} rotate>
        <i>d</i>
        <Sub>12</Sub>
      </Abs>
      <Abs x={777} y={304} rotate>
        <i>r&#771;</i>
        <Sub>
          <i>x</i>
        </Sub>
      </Abs>
      <Abs x={415} y={393}>time</Abs>
      <DLegend y={397} />

      {/* (c) */}
      <Abs x={8} y={439} size={21} center={false}>(c)</Abs>
      <RPanel top={441} head={cHead} green={cGreenHead} start={cStart} vals={cR} axisColor="#8c8c8c" />
      <Abs x={48} y={493} rotate>
        <i>R</i>
      </Abs>
      <Abs x={415} y={582}>time</Abs>
      <NoteBox x={455} y={570} w={260} h={43}>
        <Params sw="0.1" />
      </NoteBox>

      {/* (d) */}
      <Abs x={8} y={629} size={21} center={false}>(d)</Abs>
      <DPanel top={628} plotH={109} head={dD12Head} start={dD12Start} vals={dD12} rx={dRx} rTop={1.115} />
      <Abs x={50} y={683} rotate>
        <i>d</i>
        <Sub>12</Sub>
      </Abs>
      <Abs x={777} y={683} rotate>
        <i>r&#771;</i>
        <Sub>
          <i>x</i>
        </Sub>
      </Abs>
      <Abs x={415} y={770}>time</Abs>
      <DLegend y={775} />

      {/* (e) */}
      <Abs x={8} y={817} size={21} center={false}>(e)</Abs>
      <StatChart left={0} top={817} width={370} plotH={150} xHeight={6} xs={cin} vals={[eR02, eR04, eR06]} errs={[errR, errR, errR]} yDomain={[-0.078, 1.085]} yTicks={rTicks} showX={false} />
      <StatChart left={0} top={978} width={370} plotH={53} xHeight={30} xs={cin} vals={[eS02, eS04, eS06]} errs={[errS, errS, errS]} yDomain={[-0.03, 0.293]} yTicks={[0, 0.25]} showX />
      <StatLegend x={99} y={823} />
      <Abs x={40} y={893} rotate>
        <Rbar />
      </Abs>
      <Abs x={41} y={1003} rotate>
        <SigR />
      </Abs>
      <Cin x={227} y={1067} />
      <SigW x={268} y={1056} w={85} h={25} v="0.02" />

      {/* (f) */}
      <Abs x={383} y={817} size={21} center={false}>(f)</Abs>
      <StatChart left={374} top={817} width={372} plotH={150} xHeight={6} xs={cin} vals={[fR02, fR04, fR06]} errs={[errR, errR, errR]} yDomain={[-0.078, 1.085]} yTicks={rTicks} showX={false} />
      <StatChart left={374} top={978} width={372} plotH={53} xHeight={30} xs={cin} vals={[fS02, fS04, fS06]} errs={[errS, errS, errS]} yDomain={[-0.03, 0.293]} yTicks={[0, 0.25]} showX />
      <StatLegend x={474} y={823} />
      <Abs x={410} y={893} rotate>
        <Rbar />
      </Abs>
      <Abs x={413} y={1002} rotate>
        <SigR />
      </Abs>
      <Cin x={601} y={1067} />
      <SigW x={653} y={1056} w={75} h={25} v="0.1" />

      {/* (g) */}
      <Abs x={8} y={1113} size={21} center={false}>(g)</Abs>
      <StatChart left={0} top={1110} width={371} plotH={163} xHeight={30} xs={cinFine} vals={[gX02, gX04, gX06]} errs={[gE02, gE04, gE06]} yDomain={[-0.15, 1.075]} yTicks={rTicks} showX />
      <StatLegend x={274} y={1214} />
      <Abs x={40} y={1190} rotate>
        <Rx />
      </Abs>
      <Cin x={227} y={1310} />
      <SigW x={268} y={1294} w={85} h={28} v="0.02" />

      {/* (h) */}
      <Abs x={380} y={1113} size={21} center={false}>(h)</Abs>
      <StatChart left={375} top={1110} width={371} plotH={163} xHeight={30} xs={cinFine} vals={[hX02, hX04, hX06]} errs={[hE02, hE04, hE06]} yDomain={[-0.117, 1.073]} yTicks={rTicks} showX />
      <StatLegend x={648} y={1214} />
      <Abs x={415} y={1193} rotate>
        <Rx />
      </Abs>
      <Cin x={601} y={1311} />
      <SigW x={653} y={1296} w={75} h={26} v="0.1" />
    </div>
  );
}
